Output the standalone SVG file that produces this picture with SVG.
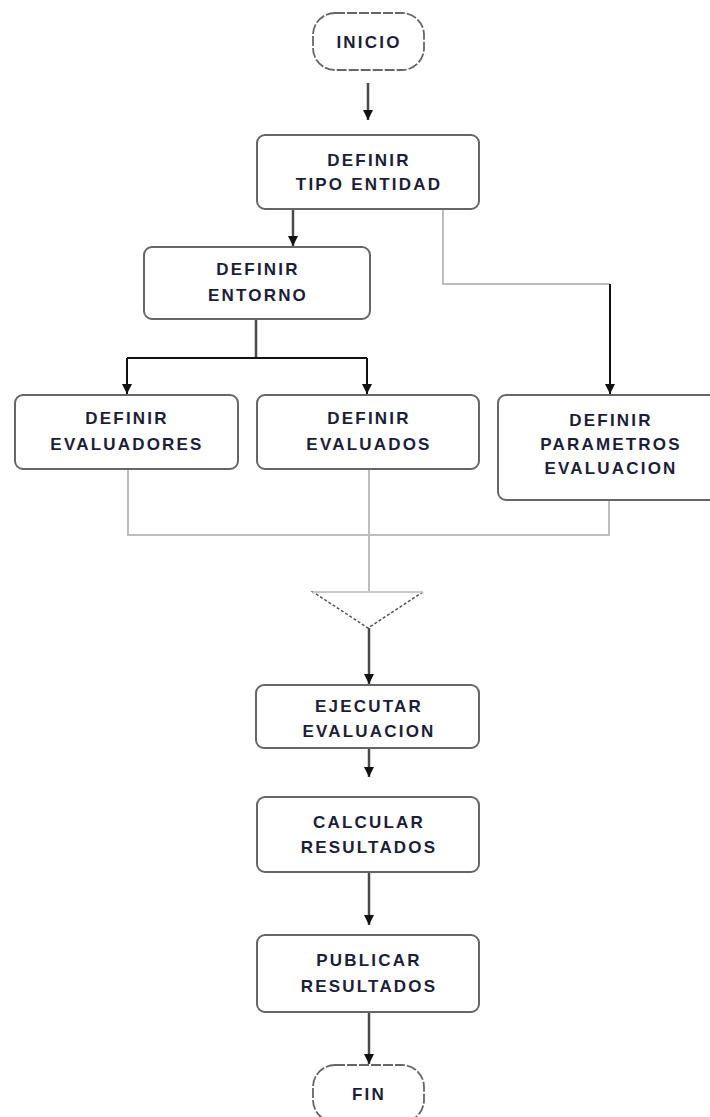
<svg xmlns="http://www.w3.org/2000/svg" width="710" height="1117" viewBox="0 0 710 1117">
  <style>
    .box { fill: #ffffff; stroke: #666666; stroke-width: 2; }
    .term { fill: #ffffff; stroke: #666666; stroke-width: 1.8; stroke-dasharray: 10 2; }
    .lbl { font-family: "Liberation Sans", Arial, sans-serif; font-size: 17px; font-weight: bold; fill: #1d1d38; text-anchor: middle; letter-spacing: 2.2px; }
    .flow { fill: none; stroke: #4a4a4a; stroke-width: 2.5; }
    .dark { fill: none; stroke: #111111; stroke-width: 2; }
    .grey { fill: none; stroke: #bdbdbd; stroke-width: 2; }
    .merge { fill: #ffffff; stroke: #555555; stroke-width: 1.5; stroke-dasharray: 3 2; }
  </style>
  <defs>
    <marker id="arrow" viewBox="0 0 10 10" refX="10" refY="5" markerWidth="10" markerHeight="10" markerUnits="userSpaceOnUse" orient="auto">
      <path d="M0,0 L10,5 L0,10 z" fill="#111111"/>
    </marker>
  </defs>

  <rect width="710" height="1117" fill="#ffffff"/>

  <!-- connectors -->
  <g id="connectors">
    <path class="flow" d="M368,83 V120" marker-end="url(#arrow)"/>
    <path class="flow" d="M293,209 V246" marker-end="url(#arrow)"/>
    <path class="grey" d="M443,209 V284 H610"/>
    <path class="dark" d="M610,284 V394" marker-end="url(#arrow)"/>
    <path class="flow" d="M256,319 V358"/>
    <path class="dark" d="M127,358 H367"/>
    <path class="dark" d="M127,358 V394" marker-end="url(#arrow)"/>
    <path class="dark" d="M367,358 V394" marker-end="url(#arrow)"/>
    <path class="grey" d="M128,469 V535 H609 V500"/>
    <path class="grey" d="M369,469 V592"/>
    <path class="flow" d="M369,628 V684" marker-end="url(#arrow)"/>
    <path class="flow" d="M369,748 V777" marker-end="url(#arrow)"/>
    <path class="flow" d="M369,872 V925" marker-end="url(#arrow)"/>
    <path class="flow" d="M369,1012 V1064" marker-end="url(#arrow)"/>
  </g>

  <g id="inicio">
    <rect class="term" x="313" y="13" width="111" height="57" rx="22"/>
    <text class="lbl" x="369" y="48">INICIO</text>
  </g>

  <g id="tipo-entidad">
    <rect class="box" x="257" y="135" width="222" height="74" rx="8"/>
    <text class="lbl" x="369" y="166">DEFINIR</text>
    <text class="lbl" x="369" y="190">TIPO ENTIDAD</text>
  </g>

  <g id="entorno">
    <rect class="box" x="144" y="247" width="226" height="72" rx="8"/>
    <text class="lbl" x="258" y="275">DEFINIR</text>
    <text class="lbl" x="258" y="301">ENTORNO</text>
  </g>

  <g id="evaluadores">
    <rect class="box" x="15" y="395" width="223" height="74" rx="8"/>
    <text class="lbl" x="127" y="424">DEFINIR</text>
    <text class="lbl" x="127" y="450">EVALUADORES</text>
  </g>

  <g id="evaluados">
    <rect class="box" x="257" y="395" width="222" height="74" rx="8"/>
    <text class="lbl" x="369" y="424">DEFINIR</text>
    <text class="lbl" x="369" y="450">EVALUADOS</text>
  </g>

  <g id="parametros">
    <rect class="box" x="498" y="395" width="226" height="105" rx="8"/>
    <text class="lbl" x="611" y="426">DEFINIR</text>
    <text class="lbl" x="611" y="450">PARAMETROS</text>
    <text class="lbl" x="611" y="474">EVALUACION</text>
  </g>

  <g id="merge">
    <path class="merge" d="M313,592 L423,592 L368,628 Z"/>
    <path d="M313,592 H423" stroke="#c8c8c8" stroke-width="2" fill="none"/>
  </g>

  <g id="ejecutar">
    <rect class="box" x="256" y="685" width="223" height="63" rx="8"/>
    <text class="lbl" x="369" y="712">EJECUTAR</text>
    <text class="lbl" x="369" y="737">EVALUACION</text>
  </g>

  <g id="calcular">
    <rect class="box" x="257" y="797" width="222" height="75" rx="8"/>
    <text class="lbl" x="369" y="828">CALCULAR</text>
    <text class="lbl" x="369" y="853">RESULTADOS</text>
  </g>

  <g id="publicar">
    <rect class="box" x="257" y="935" width="222" height="77" rx="8"/>
    <text class="lbl" x="369" y="966">PUBLICAR</text>
    <text class="lbl" x="369" y="992">RESULTADOS</text>
  </g>

  <g id="fin">
    <rect class="term" x="313" y="1065" width="111" height="57" rx="22"/>
    <text class="lbl" x="369" y="1100">FIN</text>
  </g>
</svg>
